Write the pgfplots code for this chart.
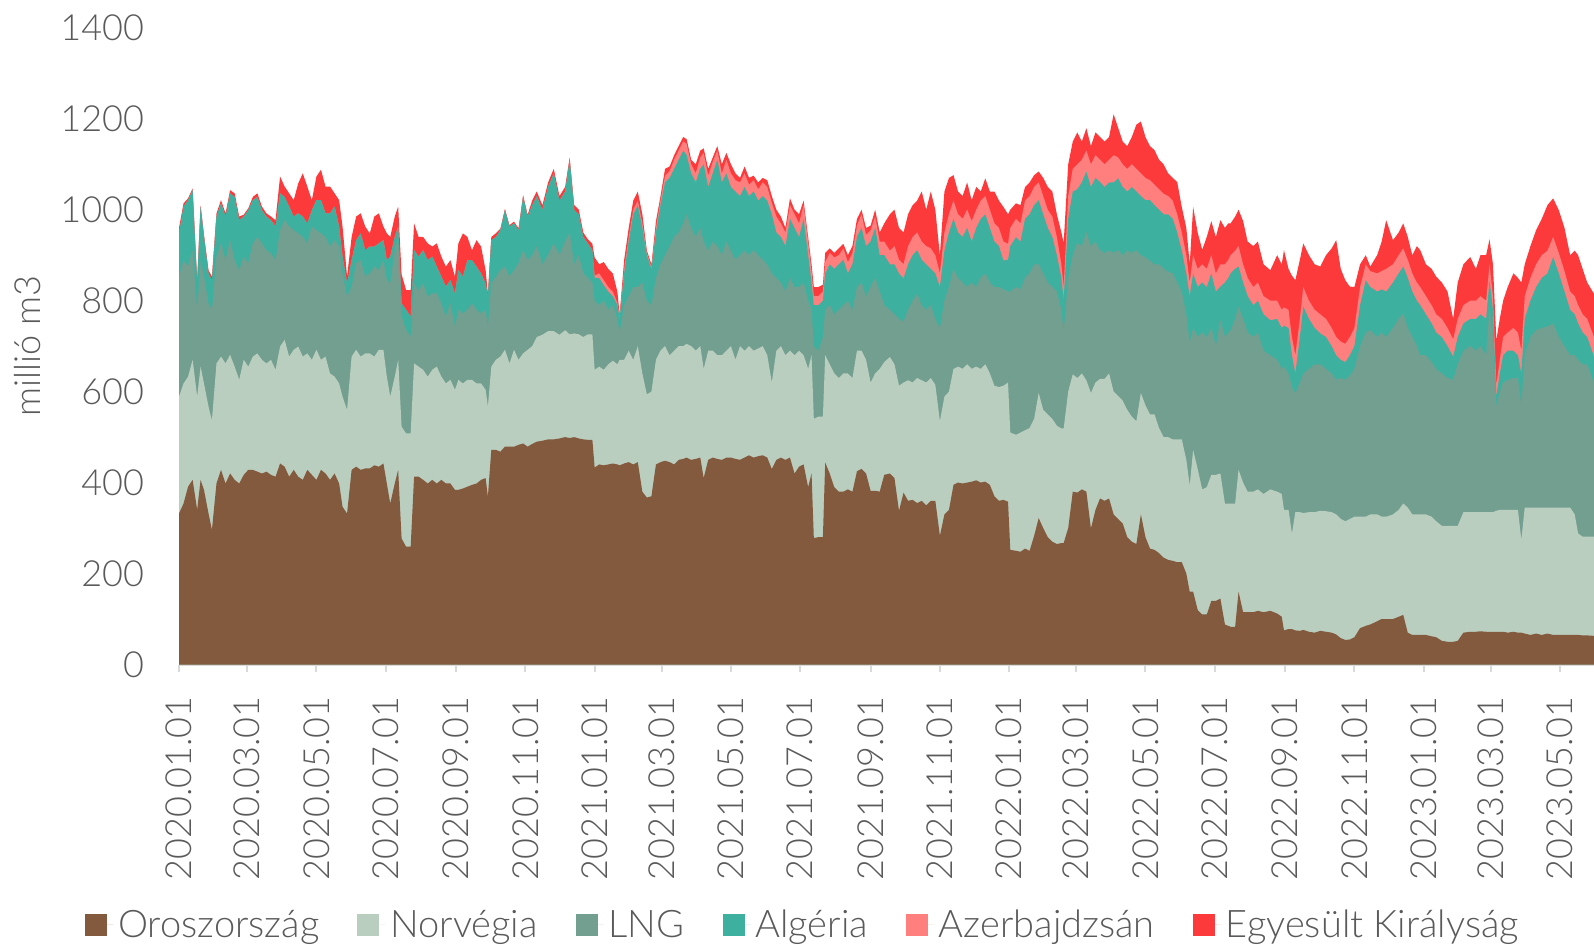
\documentclass[border=0pt]{standalone}
\usepackage{pgfplots}
\pgfplotsset{compat=1.18}
\usepackage{pgfplotstable}
\usepackage{fontspec}
\IfFontExistsTF{Lato Light}{\setmainfont{Lato Light}}{\setmainfont{Lato}}
\definecolor{cRU}{HTML}{845A3F}
\definecolor{cNO}{HTML}{BACEBF}
\definecolor{cLNG}{HTML}{739F91}
\definecolor{cAL}{HTML}{3EB09F}
\definecolor{cAZ}{HTML}{FF7F7F}
\definecolor{cUK}{HTML}{FC3A3C}
\definecolor{tgray}{HTML}{5A5A5A}
\definecolor{agray}{HTML}{D9D9D9}
% cumulative tops of the stacked layers: R=Oroszorszag, N=+Norvegia, L=+LNG, A=+Algeria, Z=+Azerbajdzsan, U=+Egyesult Kiralysag
\pgfplotstableread{
d R N L A Z U
0 332 589 853 948 948 960
4 354 618 889 1007 1007 1014
8 391 633 875 1021 1021 1025
12 406 670 911 1043 1043 1047
16 340 589 780 838 838 845
19 406 655 889 1007 1007 1010
22 384 618 853 940 940 945
26 332 567 794 860 860 867
29 296 537 780 845 845 853
33 398 662 897 985 985 992
37 428 677 926 1014 1014 1021
41 398 662 889 985 985 992
45 420 681 933 1036 1036 1043
49 406 655 889 1028 1028 1036
53 398 626 867 977 977 985
57 417 670 897 985 985 989
61 428 655 882 999 999 1003
65 428 677 926 1021 1021 1028
69 424 684 940 1028 1028 1036
73 420 670 926 999 999 1007
77 424 662 911 985 985 992
81 417 670 904 977 977 985
85 413 648 889 963 963 977
89 442 699 955 1036 1036 1073
93 435 714 977 1028 1028 1051
97 413 677 963 1007 1007 1036
101 428 692 955 985 985 1021
105 413 699 948 992 992 1058
109 406 677 940 985 985 1080
113 428 684 926 970 970 1051
117 417 670 963 999 999 1021
121 406 692 955 1021 1021 1073
125 428 670 948 1021 1021 1088
129 420 677 940 992 992 1051
133 406 640 919 992 992 1051
137 420 633 933 1007 1007 1036
141 398 618 919 963 963 1021
144 347 589 860 897 897 963
148 332 560 809 838 838 853
152 428 677 831 889 889 940
156 435 692 882 933 933 985
160 428 677 889 948 948 992
164 431 684 853 911 911 963
168 431 684 860 919 919 948
172 438 677 875 919 919 985
176 435 692 867 926 926 992
180 442 692 889 933 933 963
183 398 633 846 889 889 948
186 354 589 838 897 897 940
190 398 633 911 940 940 985
193 428 670 940 963 963 1007
196 277 523 765 794 794 858
200 259 508 736 780 780 823
204 259 508 721 765 765 823
207 413 662 838 911 911 970
211 413 655 823 897 897 940
215 406 648 838 911 911 940
219 398 633 809 889 889 926
223 406 648 816 897 897 919
227 398 655 816 875 875 926
231 406 633 794 853 853 897
235 398 618 765 831 831 875
239 398 626 794 845 845 889
243 384 604 743 816 816 853
246 384 626 780 867 867 926
250 387 618 772 853 853 948
254 391 626 780 889 889 940
258 395 626 794 889 889 911
262 398 618 780 875 875 933
266 406 618 772 860 860 919
270 410 604 780 838 838 867
272 369 567 743 809 809 816
275 472 655 838 933 933 940
279 472 670 853 940 940 948
283 468 677 867 955 955 958
287 479 692 875 999 999 1002
291 479 662 853 963 963 966
295 479 692 867 970 970 974
299 483 670 882 955 955 959
303 486 684 911 1028 1028 1032
307 479 692 889 985 985 989
311 485 700 900 1010 1010 1020
315 490 720 920 1030 1030 1040
320 492 725 880 1000 1000 1010
325 495 733 900 1050 1050 1060
330 495 733 926 1080 1080 1090
335 497 725 900 1020 1020 1030
340 500 735 930 1040 1040 1050
344 498 726 950 1110 1110 1115
348 500 728 880 1000 1000 1010
352 497 726 900 990 990 1000
356 495 720 860 940 940 950
360 494 726 850 926 926 935
364 494 726 840 911 911 925
366 433 648 800 850 855 895
370 440 655 790 850 860 880
374 438 648 800 834 845 885
378 440 660 780 820 830 870
382 442 668 790 810 820 860
386 440 660 760 790 795 820
388 438 670 730 760 765 770
392 442 670 790 860 870 890
396 445 690 810 930 940 960
400 440 670 830 990 1000 1020
404 445 700 830 1010 1020 1040
408 380 640 840 960 970 990
412 367 594 800 900 905 910
416 370 600 790 870 875 880
420 440 670 850 950 960 975
424 445 690 880 1010 1020 1030
428 448 700 900 1060 1075 1090
432 445 680 920 1070 1085 1095
436 440 690 940 1090 1110 1120
440 450 700 950 1110 1130 1140
444 452 700 970 1130 1150 1160
447 455 705 990 1120 1145 1155
451 450 700 960 1080 1100 1110
455 452 690 940 1060 1080 1100
459 455 700 960 1090 1115 1130
462 410 650 930 1100 1125 1135
466 450 690 910 1050 1075 1090
470 455 690 930 1080 1105 1115
474 452 680 920 1110 1130 1140
478 450 680 900 1060 1080 1100
482 455 690 930 1080 1110 1125
486 455 700 910 1050 1080 1100
490 452 670 890 1040 1065 1080
494 450 700 900 1030 1060 1070
498 455 690 910 1050 1080 1095
502 460 700 900 1030 1055 1070
506 455 690 911 1040 1065 1075
510 458 695 900 1020 1045 1060
514 460 700 890 1030 1060 1070
518 455 680 880 1020 1050 1065
522 430 620 860 990 1015 1030
526 450 690 850 950 985 1000
530 455 700 840 940 970 985
534 450 680 820 920 950 960
538 455 690 850 980 1010 1025
542 420 680 830 960 990 1000
546 435 690 830 940 970 990
550 440 680 840 980 1010 1020
554 390 650 800 900 930 940
557 420 680 780 840 865 880
559 278 540 700 790 810 830
563 280 545 690 790 810 830
567 280 545 720 800 820 835
569 444 680 780 860 885 905
573 420 660 790 880 905 915
577 390 640 770 870 895 905
581 380 630 780 880 900 915
585 380 640 790 890 915 925
589 385 640 800 860 885 900
593 380 630 780 880 905 920
597 425 690 830 940 965 980
601 430 690 840 960 990 1000
605 420 670 810 920 945 960
609 382 620 830 930 955 965
613 382 640 850 960 985 1000
617 380 650 820 900 930 950
621 417 665 790 900 930 970
626 420 676 780 880 910 990
630 410 660 770 880 920 1000
634 338 613 760 860 890 960
638 378 620 754 849 880 950
642 360 625 780 880 920 990
646 362 620 800 900 940 1010
650 355 630 815 911 950 1020
654 360 625 790 890 930 1040
658 350 620 780 880 920 1000
662 360 630 790 870 915 1040
666 360 615 760 860 900 1000
670 283 535 739 830 860 900
674 330 589 800 910 950 1040
678 340 600 830 950 990 1070
682 395 650 870 980 1020 1076
686 400 655 850 950 990 1040
690 398 650 840 940 980 1030
694 400 660 830 960 1000 1060
698 402 650 840 930 975 1021
702 405 655 830 960 1000 1050
706 400 650 850 980 1020 1040
710 402 660 860 990 1030 1069
714 395 640 840 960 1000 1040
718 370 613 830 930 970 1040
722 360 610 830 920 960 1020
726 362 613 825 888 930 1006
730 358 620 820 890 925 990
732 252 510 820 920 960 1000
737 250 505 830 940 980 1014
741 248 510 825 930 970 1010
745 255 515 850 980 1020 1050
749 250 520 860 990 1030 1060
753 283 540 880 1010 1050 1076
757 322 597 880 1021 1060 1084
761 300 560 860 990 1030 1070
765 280 550 840 960 1000 1050
769 270 540 830 940 985 1040
773 265 525 820 900 940 990
777 267 519 780 850 880 950
779 267 519 731 802 830 927
783 300 600 850 980 1030 1100
787 380 638 900 1040 1090 1150
791 378 630 927 1045 1100 1170
795 385 640 920 1060 1110 1150
799 380 625 951 1084 1130 1179
803 299 597 920 1050 1100 1140
807 340 620 930 1070 1120 1170
811 365 628 911 1061 1110 1160
815 360 628 905 1050 1100 1150
819 365 640 910 1060 1110 1160
823 330 600 905 1060 1120 1210
827 320 590 911 1069 1115 1180
831 310 580 900 1050 1100 1150
835 280 560 910 1040 1090 1140
839 270 545 905 1050 1100 1160
843 265 535 911 1040 1090 1187
847 330 597 900 1030 1080 1194
851 280 570 895 1021 1070 1160
855 255 550 888 1021 1065 1140
859 252 550 880 1010 1055 1131
863 245 520 880 1000 1045 1110
867 235 500 870 990 1035 1100
871 230 500 864 990 1030 1080
875 228 495 860 980 1020 1070
879 225 495 840 950 990 1061
883 225 495 820 910 950 1006
887 200 450 770 860 900 960
890 160 393 707 810 840 880
893 160 472 740 860 900 1006
897 120 430 720 830 870 950
901 110 385 730 840 880 912
905 110 390 720 830 870 940
909 140 417 740 860 900 975
913 140 417 700 820 860 940
917 145 420 757 831 880 977
921 88 354 720 840 880 960
924 85 354 730 850 890 970
926 83 354 735 860 900 970
930 83 354 760 870 910 985
933 160 428 787 875 920 1000
937 115 400 760 840 880 975
941 115 380 730 810 850 930
946 115 380 720 790 830 920
950 118 385 730 800 840 930
955 115 375 690 770 810 880
961 118 385 680 757 800 867
967 112 380 670 760 800 900
971 105 375 650 740 780 880
973 75 340 655 745 785 911
977 78 340 640 740 780 870
980 78 288 610 680 720 855
983 75 335 596 640 680 845
987 74 335 620 720 760 890
990 76 333 640 787 830 926
995 72 335 650 760 800 900
1000 70 335 660 740 780 880
1005 74 338 660 728 770 875
1010 72 337 650 720 760 900
1015 70 335 640 700 740 915
1019 66 330 626 680 720 933
1023 58 320 630 670 710 870
1027 54 315 626 665 705 845
1031 55 320 635 680 720 831
1035 60 325 650 700 740 830
1040 80 325 700 790 830 880
1045 85 325 730 845 880 900
1049 88 330 735 830 865 875
1055 95 330 720 820 860 900
1059 100 325 730 825 865 930
1063 100 325 720 820 870 977
1069 100 330 740 840 880 933
1074 105 340 760 860 900 950
1078 109 354 772 875 915 970
1082 70 345 740 850 890 940
1086 65 330 720 820 860 900
1090 65 330 700 800 840 920
1093 65 330 680 790 830 911
1098 65 330 680 770 810 880
1103 62 325 665 750 790 870
1107 60 315 650 730 770 853
1112 52 305 640 720 760 840
1117 50 305 630 700 740 820
1122 50 305 626 677 715 760
1126 52 305 660 720 760 840
1131 70 335 690 750 790 880
1137 72 335 700 760 800 896
1142 72 335 690 760 800 870
1146 73 335 700 770 810 900
1151 72 335 680 760 800 900
1154 72 335 787 845 880 935
1157 72 335 720 780 810 880
1160 72 338 567 589 615 713
1163 72 340 600 640 670 760
1166 72 340 620 680 720 800
1170 70 340 625 690 730 830
1175 72 340 630 690 740 860
1179 70 340 630 680 730 850
1182 70 274 570 640 690 840
1185 68 345 680 760 810 880
1190 65 345 720 800 850 920
1195 68 345 735 830 880 955
1200 65 345 740 850 900 980
1205 68 345 743 860 910 1010
1210 65 345 750 896 940 1025
1215 65 345 720 860 905 999
1220 65 345 700 820 865 960
1225 65 345 680 780 820 900
1229 65 330 680 770 810 910
1232 65 288 670 750 790 900
1236 64 281 660 730 770 870
1240 64 281 660 720 760 840
1246 63 281 618 677 720 815
}\data

\begin{document}
\begin{tikzpicture}
\useasboundingbox (0pt,0pt) rectangle (797pt,-472.5pt);
\begin{axis}[
  at={(89.5pt,-332.25pt)}, anchor=south west,
  width=707.5pt, height=318.35pt, scale only axis,
  xmin=0, xmax=1246, ymin=0, ymax=1400,
  axis x line*=bottom, axis y line*=left,
  x axis line style={draw=agray, line width=1pt, -},
  y axis line style={draw=none},
  ytick={0,200,400,600,800,1000,1200,1400},
  ytick style={draw=none},
  xtick={0,60,121,182,244,305,366,425,486,547,609,670,731,790,851,912,974,1035,1096,1155,1216},
  xticklabels={2020.01.01,2020.03.01,2020.05.01,2020.07.01,2020.09.01,2020.11.01,2021.01.01,2021.03.01,2021.05.01,2021.07.01,2021.09.01,2021.11.01,2022.01.01,2022.03.01,2022.05.01,2022.07.01,2022.09.01,2022.11.01,2023.01.01,2023.03.01,2023.05.01},
  xtick align=outside,
  xtick style={draw=agray, line width=1pt},
  major tick length=3.5pt,
  scaled y ticks=false,
  /pgf/number format/assume math mode=true,
  /pgf/number format/1000 sep={},
  tick label style={font=\fontsize{18}{21}\selectfont, text=tgray},
  yticklabel shift=14pt,
  xticklabel shift=9pt,
  xticklabel style={rotate=90, anchor=east},
  ylabel={millió m3},
  ylabel style={at={(axis description cs:-0.1067,0.5)}, anchor=center, font=\fontsize{18}{21}\selectfont, text=tgray},
  legend columns=6,
  legend cell align=left,
  legend style={at={(axis description cs:0.4421,-0.409)}, anchor=center, draw=none, fill=none,
    font=\fontsize{19}{22}\selectfont, text=tgray,
    nodes={inner sep=2.5pt},
    /tikz/every even column/.append style={column sep=16.5pt}},
  legend image code/.code={\fill[#1] (0pt,-5.5pt) rectangle (11pt,5.5pt); \path (0pt,0pt) -- (14pt,0pt);},
]
\addlegendimage{fill=cRU, draw=none}\addlegendentry{Oroszország}
\addlegendimage{fill=cNO, draw=none}\addlegendentry{Norvégia}
\addlegendimage{fill=cLNG, draw=none}\addlegendentry{LNG}
\addlegendimage{fill=cAL, draw=none}\addlegendentry{Algéria}
\addlegendimage{fill=cAZ, draw=none}\addlegendentry{Azerbajdzsán}
\addlegendimage{fill=cUK, draw=none}\addlegendentry{Egyesült Királyság}
\addplot[fill=cUK, draw=none, forget plot] table[x=d, y=U] {\data} \closedcycle;
\addplot[fill=cAZ, draw=none, forget plot] table[x=d, y=Z] {\data} \closedcycle;
\addplot[fill=cAL, draw=none, forget plot] table[x=d, y=A] {\data} \closedcycle;
\addplot[fill=cLNG, draw=none, forget plot] table[x=d, y=L] {\data} \closedcycle;
\addplot[fill=cNO, draw=none, forget plot] table[x=d, y=N] {\data} \closedcycle;
\addplot[fill=cRU, draw=none, forget plot] table[x=d, y=R] {\data} \closedcycle;
\end{axis}
\end{tikzpicture}
\end{document}
